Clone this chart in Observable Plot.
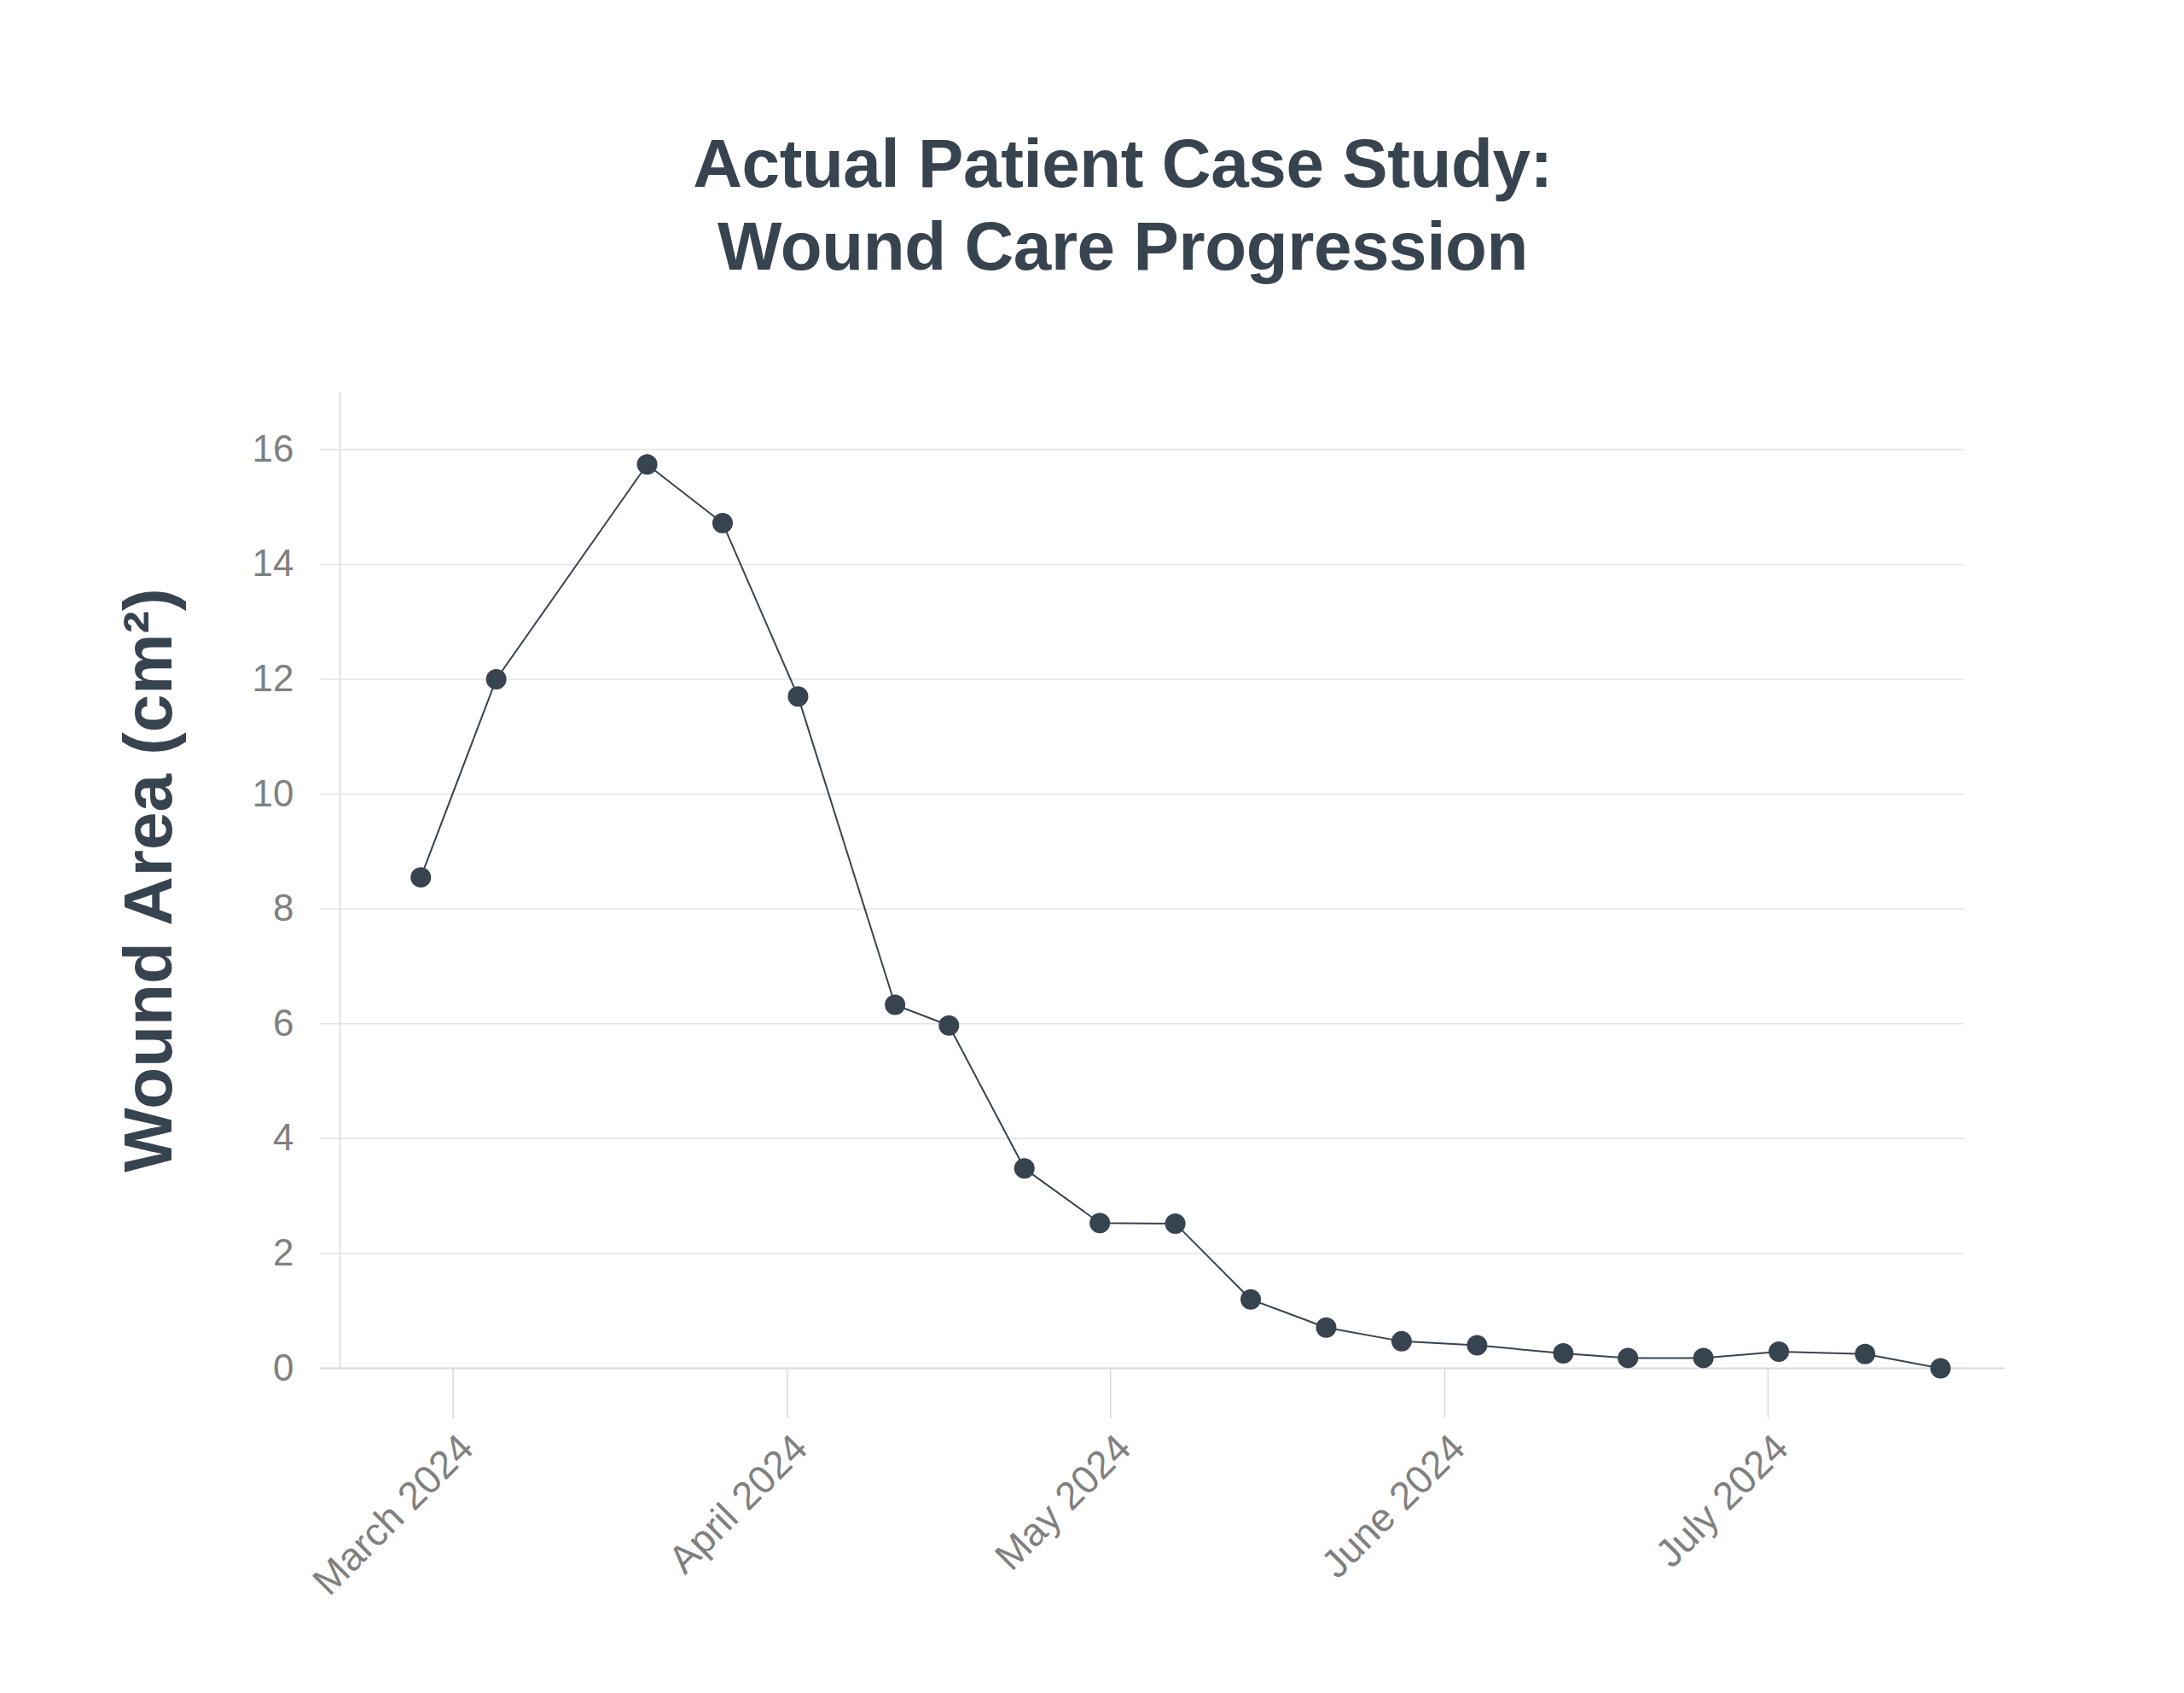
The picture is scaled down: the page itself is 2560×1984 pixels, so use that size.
<!DOCTYPE html>
<html><head><meta charset="utf-8">
<script src="https://cdn.jsdelivr.net/npm/d3@7"></script>
<script src="https://cdn.jsdelivr.net/npm/@observablehq/plot@0.6"></script>
<style>
html,body{margin:0;padding:0;background:#fff;}
#wrap{width:2560px;height:1984px;position:relative;overflow:hidden;background:#fff;}
#title{position:absolute;left:72px;right:0;top:143px;text-align:center;font-family:"Liberation Sans",Arial,sans-serif;font-weight:bold;font-size:80px;line-height:97px;color:#37444f;letter-spacing:-0.4px;}
#chart{position:absolute;left:0;top:380px;}
</style></head><body>
<div id="wrap">
  <div id="title">Actual Patient Case Study:<br>Wound Care Progression</div>
  <div id="chart"></div>
</div>
<script>
// ---- data ----
const visitDates = ["2024-02-27","2024-03-05","2024-03-19","2024-03-26","2024-04-02","2024-04-11","2024-04-16","2024-04-23","2024-04-30","2024-05-07","2024-05-14","2024-05-21","2024-05-28","2024-06-04","2024-06-12","2024-06-18","2024-06-25","2024-07-02","2024-07-10","2024-07-17"];
const woundArea = [8.55, 12.0, 15.74, 14.72, 11.70, 6.33, 5.97, 3.48, 2.53, 2.52, 1.20, 0.71, 0.47, 0.40, 0.26, 0.18, 0.18, 0.29, 0.25, 0];
const monthTicks = ["2024-03-01","2024-04-01","2024-05-01","2024-06-01","2024-07-01"];
const monthLabels = ["March 2024","April 2024","May 2024","June 2024","July 2024"];
const yTicks = [0, 2, 4, 6, 8, 10, 12, 14, 16];
const yLabel = "Wound Area (cm²)";

// ---- build ----
const data = visitDates.map((d, i) => ({date: new Date(d), area: woundArea[i]}));
const tickDates = monthTicks.map(d => new Date(d));
const labelByTime = new Map(tickDates.map((d, i) => [+d, monthLabels[i]]));
const xDomain = [new Date("2024-02-19T12:00Z"), new Date("2024-07-19T05:00Z")];
const gridStart = new Date("2024-02-17T16:00Z");
const axisEnd = new Date("2024-07-23T00:00Z");
const ink = "#37444f";
const grey = "#808080";

const chart = Plot.plot({
  width: 2560,
  height: 1604,
  marginLeft: 398,
  marginRight: 258,
  marginTop: 79,
  marginBottom: 381,
  style: {fontFamily: "'Liberation Sans', Arial, sans-serif", background: "white", overflow: "visible"},
  x: {type: "utc", domain: xDomain},
  y: {domain: [0, 17]},
  marks: [
    Plot.ruleY(yTicks, {x1: gridStart, x2: xDomain[1], stroke: "#e4e4e4", strokeWidth: 1.5}),
    Plot.ruleX([xDomain[0]], {y1: 0, y2: 17, stroke: "#e2e2e2", strokeWidth: 2}),
    Plot.ruleY([0], {x1: gridStart, x2: axisEnd, stroke: "#dddddd", strokeWidth: 2}),
    Plot.axisY(yTicks, {tickSize: 0, tickPadding: 54, fontSize: 44, fill: grey, tickFormat: d => String(d), label: null}),
    Plot.axisX(tickDates, {tickSize: 59, stroke: "#dadada", strokeWidth: 1.5, tickFormat: () => "", label: null}),
    Plot.axisX(tickDates, {tickSize: 0, tickPadding: 86, tickRotate: -45, dx: 16, fontSize: 46, fill: grey,
      tickFormat: d => labelByTime.get(+d), label: null}),
    Plot.line(data, {x: "date", y: "area", stroke: ink, strokeWidth: 2}),
    Plot.dot(data, {x: "date", y: "area", r: 12, fill: ink, stroke: "none"}),
    Plot.text([yLabel], {frameAnchor: "left", textAnchor: "middle", rotate: -90, dx: -223, fontSize: 80, fontWeight: "bold", fill: ink})
  ]
});
document.getElementById("chart").appendChild(chart);
</script>
</body></html>
